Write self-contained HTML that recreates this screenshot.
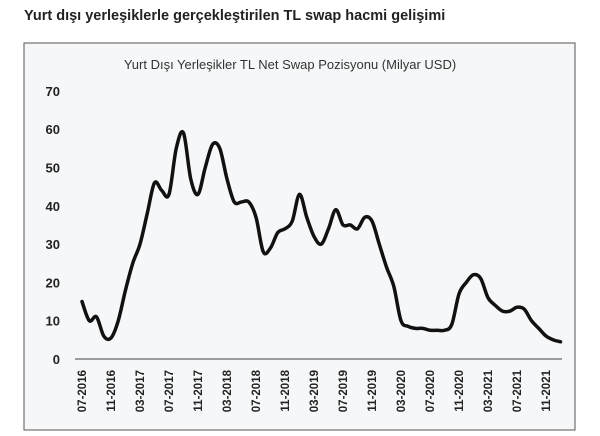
<!DOCTYPE html>
<html><head><meta charset="utf-8"><style>
body{margin:0;width:600px;height:431px;background:#fff;overflow:hidden;font-family:"Liberation Sans",sans-serif}
</style></head><body>
<svg width="600" height="431">
<text x="24" y="20" font-size="14.5" font-weight="bold" fill="#222">Yurt dışı yerleşiklerle gerçekleştirilen TL swap hacmi gelişimi</text>
<rect x="24" y="43" width="551" height="387" fill="#f6f7f8" stroke="#555" stroke-width="1"/>
<text x="290" y="69" font-size="13" text-anchor="middle" fill="#333">Yurt Dışı Yerleşikler TL Net Swap Pozisyonu (Milyar USD)</text>
<g id="yaxis"></g><g id="xaxis"></g><g id="series"></g>
</svg>
<script>
const yTicks=[0,10,20,30,40,50,60,70];
const xLabels=["07-2016","11-2016","03-2017","07-2017","11-2017","03-2018","07-2018","11-2018","03-2019","07-2019","11-2019","03-2020","07-2020","11-2020","03-2021","07-2021","11-2021"];
const values=[15,10,11,6,5.5,10,18,25,30,38,46,44,43,55,59,47,43,50,56,55,47,41,41,41,37,28,29,33,34,36,43,37,32,30,34,39,35,35,34,37,36,30,24,19,10,8.5,8,8,7.5,7.5,7.5,9,17,20,22,21,16,14,12.5,12.5,13.5,13,10,8,6,5,4.5];
const ns="http://www.w3.org/2000/svg";
const y=v=>359-v*3.83;
const x=i=>82+i*7.25;
const ya=document.getElementById('yaxis');
yTicks.forEach(t=>{const e=document.createElementNS(ns,'text');


e.setAttribute('x',60);e.setAttribute('y',y(t)+5);e.setAttribute('text-anchor','end');e.setAttribute('font-size','13');e.setAttribute('font-weight','bold');e.setAttribute('fill','#222');e.textContent=t;ya.appendChild(e);});
const ax=document.createElementNS(ns,'line');


ax.setAttribute('x1',75);ax.setAttribute('x2',562);ax.setAttribute('y1',359);ax.setAttribute('y2',359);ax.setAttribute('stroke','#666');ax.setAttribute('stroke-width','1.2');ya.appendChild(ax);
const xa=document.getElementById('xaxis');
xLabels.forEach((l,k)=>{const e=document.createElementNS(ns,'text');


const cx=x(k*4)+4;e.setAttribute('transform','translate('+cx+',370) rotate(-90)');e.setAttribute('text-anchor','end');e.setAttribute('font-size','11.5');e.setAttribute('font-weight','bold');e.setAttribute('fill','#222');e.textContent=l;xa.appendChild(e);});
const p=values.map((v,i)=>[x(i),y(v)]);
let d='M'+p[0][0]+','+p[0][1];
for(let i=0;i<p.length-1;i++){const p0=p[Math.max(0,i-1)],p1=p[i],p2=p[i+1],p3=p[Math.min(p.length-1,i+2)];
d+=' C'+(p1[0]+(p2[0]-p0[0])/6)+','+(p1[1]+(p2[1]-p0[1])/6)+' '+(p2[0]-(p3[0]-p1[0])/6)+','+(p2[1]-(p3[1]-p1[1])/6)+' '+p2[0]+','+p2[1];}
const path=document.createElementNS(ns,'path');


path.setAttribute('d',d);path.setAttribute('fill','none');path.setAttribute('stroke','#111');path.setAttribute('stroke-width','3.5');path.setAttribute('stroke-linejoin','round');path.setAttribute('stroke-linecap','round');
document.getElementById('series').appendChild(path);
</script>
</body></html>
